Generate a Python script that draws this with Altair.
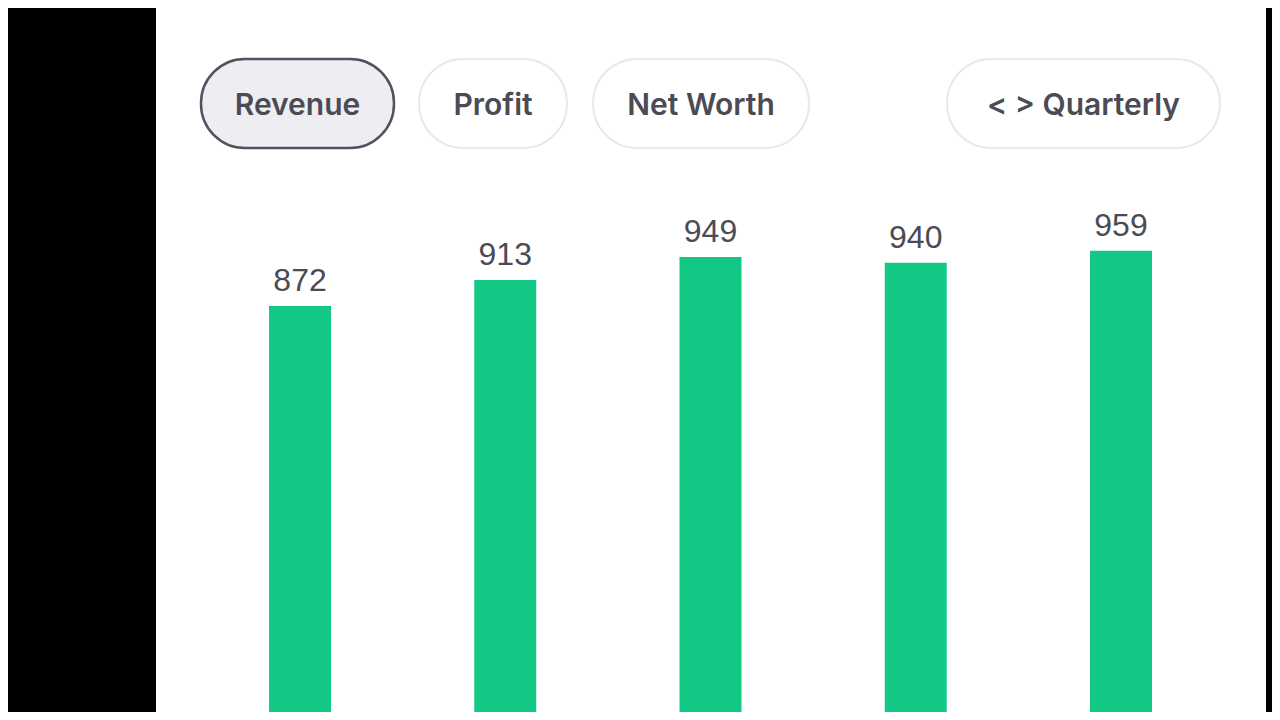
import altair as alt
import pandas as pd

# ---- data ----
quarters = ["Q1", "Q2", "Q3", "Q4", "Q5"]
revenue = [872, 913, 949, 940, 959]
tabs = ["Revenue", "Profit", "Net Worth"]
period_label = "< > Quarterly"

W, H = 1264, 704
Y_MIN, Y_MAX = 233.2, 1340.8
GREEN = "#13c784"
TEXT = "#4b4b55"

df = pd.DataFrame({"quarter": quarters, "revenue": revenue})
one = pd.DataFrame({"k": [0]})

x_enc = alt.X("quarter:N", sort=quarters, axis=None,
              scale=alt.Scale(range=[189.4, 1215.6], paddingInner=0.698, paddingOuter=0.349))
y_scale = alt.Scale(domain=[Y_MIN, Y_MAX], nice=False, zero=False)

# white panel
panel = alt.Chart(one).mark_rect(color="white").encode(
    x=alt.value(148), x2=alt.value(1258), y=alt.value(0), y2=alt.value(H)
)

layers = [panel]

# buttons (pill shapes)
button_boxes = [(193, 386), (411, 559), (585, 801), (939, 1212)]
labels = tabs + [period_label]
for i, (lab, (x0, x1)) in enumerate(zip(labels, button_boxes)):
    selected = i == 0
    rect = alt.Chart(one).mark_rect(
        cornerRadius=44,
        fill="#eeeef2" if selected else "white",
        stroke="#52525c" if selected else "#e9e9ec",
        strokeWidth=2.5 if selected else 2,
    ).encode(x=alt.value(x0), x2=alt.value(x1), y=alt.value(51), y2=alt.value(140))
    txt = alt.Chart(pd.DataFrame({"t": [lab]})).mark_text(
        font="Inter", fontSize=30, fontWeight=600, color=TEXT,
        align="center", baseline="middle",
    ).encode(x=alt.value((x0 + x1) / 2), y=alt.value(97.5), text="t:N")
    layers += [rect, txt]

bars = alt.Chart(df).mark_bar(color=GREEN, clip=True).encode(
    x=x_enc,
    y=alt.Y("revenue:Q", scale=y_scale, axis=None),
    y2=alt.datum(Y_MIN),
)

labels_txt = alt.Chart(df).mark_text(
    font="Liberation Sans", fontSize=32, color=TEXT, baseline="bottom", dy=-8,
).encode(
    x=x_enc,
    y=alt.Y("revenue:Q", scale=y_scale, axis=None),
    text=alt.Text("revenue:Q"),
)

layers += [bars, labels_txt]

chart = alt.layer(*layers).properties(
    width=W, height=H, background="black", padding=0,
    autosize=alt.AutoSizeParams(type="none"),
).configure_view(stroke=None)

chart.save("out.html", embed_options={"renderer": "svg", "actions": False})
